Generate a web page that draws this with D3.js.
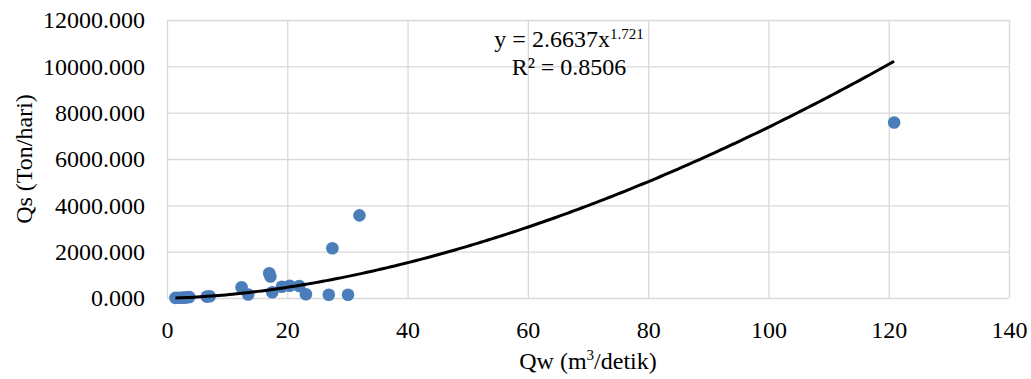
<!DOCTYPE html>
<html>
<head>
<meta charset="utf-8">
<script src="https://cdn.jsdelivr.net/npm/d3@7.9.0/dist/d3.min.js"></script>
<style>
  body { margin: 0; background: #fff; }
  svg { display: block; font-family: "Liberation Serif", "Times New Roman", serif; }
  .grid line { stroke: #d9d9d9; stroke-width: 1.3; }
  .grid .domain { display: none; }
  .ticks text { fill: #000; font-size: 24px; font-family: "Liberation Serif", "Times New Roman", serif; }
</style>
</head>
<body>
<div id="chart"></div>
<script>
// water discharge (m3/s) and sediment discharge (ton/day)
const qw = [1.4, 1.9, 2.4, 2.8, 3.2, 3.7, 6.6, 7.1, 12.4, 13.5, 17.0, 17.2, 17.5, 19.1, 20.4, 22.0, 23.1, 26.9, 27.5, 30.1, 32.0, 120.9];
const qs = [5, 8, 12, 18, 25, 45, 60, 75, 461, 150, 1065, 925, 250, 487, 530, 517, 160, 142, 2150, 142, 3565, 7573];

// power trendline shown on the chart
const trendA = 2.6637;
const trendB = 1.721;
const trendR2 = 0.8506;

const xTicks = [0, 20, 40, 60, 80, 100, 120, 140];
const yTicks = [0, 2000, 4000, 6000, 8000, 10000, 12000];

const width = 1031;
const height = 379;
const margin = { top: 20, right: 22, bottom: 81, left: 167 };

const svg = d3.select("#chart")
  .append("svg")
  .attr("width", width)
  .attr("height", height);

const x = d3.scaleLinear().domain([0, 140]).range([margin.left, width - margin.right]);
const y = d3.scaleLinear().domain([0, 12000]).range([height - margin.bottom, margin.top]);

// gridlines
svg.append("g")
  .attr("class", "grid")
  .attr("transform", `translate(${margin.left},0)`)
  .call(d3.axisLeft(y).tickValues(yTicks).tickFormat("").tickSize(-(x.range()[1] - x.range()[0])));

svg.append("g")
  .attr("class", "grid")
  .attr("transform", `translate(0,${margin.top})`)
  .call(d3.axisTop(x).tickValues(xTicks).tickFormat("").tickSize(-(y.range()[0] - y.range()[1])));

// tick labels
const yAxis = svg.append("g")
  .attr("class", "ticks")
  .attr("transform", `translate(${margin.left - 22},0)`)
  .call(d3.axisLeft(y).tickValues(yTicks).tickFormat(d3.format(".3f")).tickSize(0).tickPadding(0));
yAxis.select(".domain").remove();
yAxis.selectAll("text").attr("dy", "0.33em");

const xAxis = svg.append("g")
  .attr("class", "ticks")
  .attr("transform", `translate(0,${y(0)})`)
  .call(d3.axisBottom(x).tickValues(xTicks).tickFormat(d3.format("d")).tickSize(0).tickPadding(0));
xAxis.select(".domain").remove();
xAxis.selectAll("text").attr("dy", null).attr("y", 40);

// axis titles
const xTitle = svg.append("text")
  .attr("x", (x.range()[0] + x.range()[1]) / 2)
  .attr("y", 369)
  .attr("text-anchor", "middle")
  .style("font-size", "24px");
xTitle.append("tspan").text("Qw (m");
xTitle.append("tspan").attr("dy", -9).style("font-size", "15px").text("3");
xTitle.append("tspan").attr("dy", 9).text("/detik)");

svg.append("text")
  .attr("transform", `translate(32,${(y.range()[0] + y.range()[1]) / 2}) rotate(-90)`)
  .attr("text-anchor", "middle")
  .style("font-size", "24px")
  .text("Qs (Ton/hari)");

// points
svg.append("g")
  .selectAll("circle")
  .data(qw.map((d, i) => [d, qs[i]]))
  .join("circle")
  .attr("cx", (d) => x(d[0]))
  .attr("cy", (d) => y(d[1]))
  .attr("r", 6.3)
  .attr("fill", "#4a7ebb");

// trendline
const [xMin, xMax] = d3.extent(qw);
const trendPts = d3.range(0, 201).map((i) => {
  const xv = xMin + (xMax - xMin) * i / 200;
  return [xv, trendA * Math.pow(xv, trendB)];
});
svg.append("path")
  .datum(trendPts)
  .attr("fill", "none")
  .attr("stroke", "#000")
  .attr("stroke-width", 3)
  .attr("d", d3.line().x((d) => x(d[0])).y((d) => y(d[1])));

// equation label
const eq = svg.append("text")
  .attr("x", 569)
  .attr("y", 46.5)
  .attr("text-anchor", "middle")
  .style("font-size", "24px");
eq.append("tspan").text(`y = ${trendA}x`);
eq.append("tspan").attr("dy", -8).style("font-size", "15px").text(String(trendB));

svg.append("text")
  .attr("x", 569)
  .attr("y", 75)
  .attr("text-anchor", "middle")
  .style("font-size", "24px")
  .text(`R² = ${trendR2}`);
</script>
</body>
</html>
